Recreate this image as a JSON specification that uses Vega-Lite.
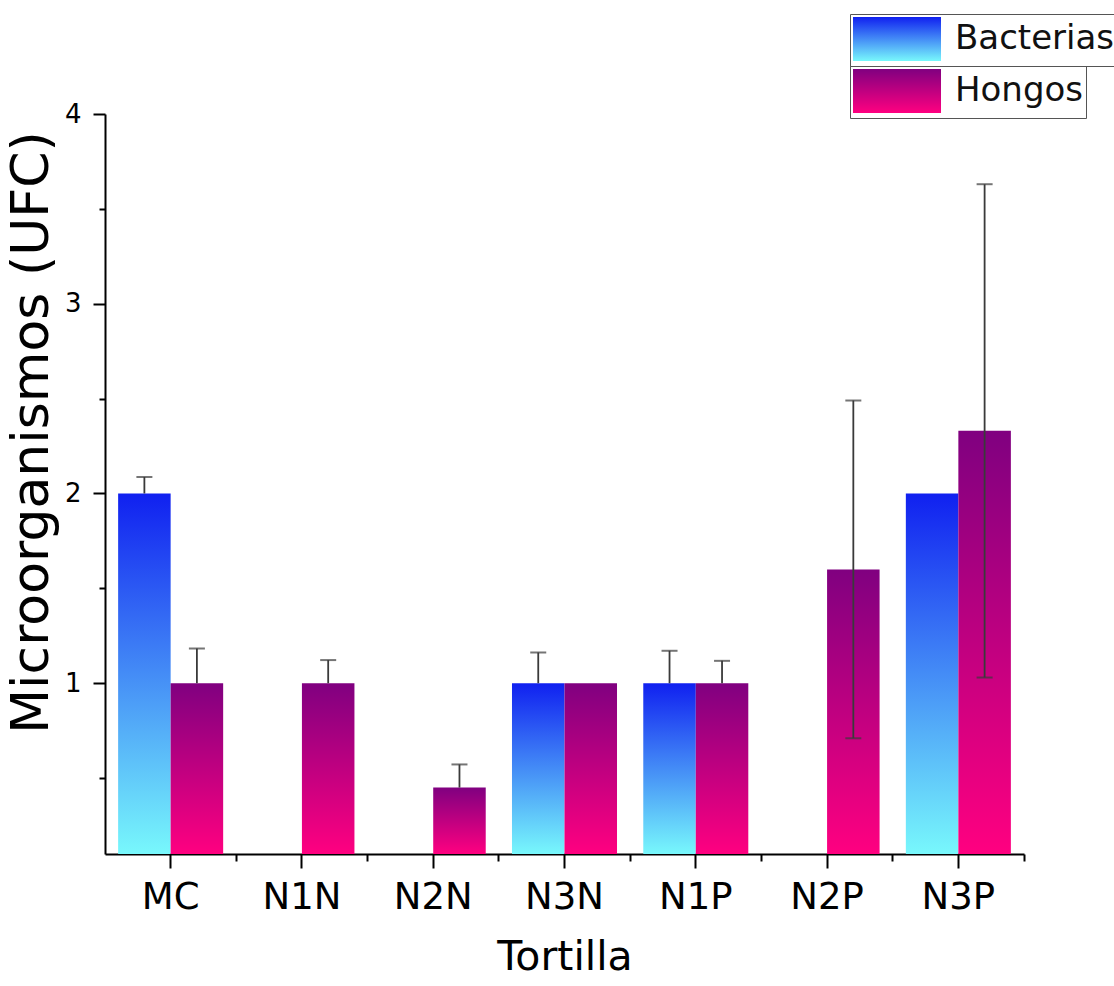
{
  "$schema": "https://vega.github.io/schema/vega-lite/v6.json",
  "width": 919,
  "height": 740,
  "autosize": "none",
  "padding": {"left": 105, "top": 114, "right": 90, "bottom": 132},
  "background": "white",
  "config": {
    "view": {"stroke": null},
    "font": "DejaVu Sans",
    "axis": {
      "domainColor": "black", "tickColor": "black", "labelColor": "black", "titleColor": "black",
      "grid": false, "labelFont": "DejaVu Sans", "titleFont": "DejaVu Sans", "titleFontWeight": "normal"
    }
  },
  "data": {
    "values": [
      {"cat": "MC", "group": "Bacterias", "value": 2, "lo": 2, "hi": 2.087},
      {"cat": "MC", "group": "Hongos", "value": 1, "lo": 1, "hi": 1.183},
      {"cat": "N1N", "group": "Hongos", "value": 1, "lo": 1, "hi": 1.122},
      {"cat": "N2N", "group": "Hongos", "value": 0.45, "lo": 0.45, "hi": 0.572},
      {"cat": "N3N", "group": "Bacterias", "value": 1, "lo": 1, "hi": 1.162},
      {"cat": "N3N", "group": "Hongos", "value": 1, "lo": null, "hi": null},
      {"cat": "N1P", "group": "Bacterias", "value": 1, "lo": 1, "hi": 1.171},
      {"cat": "N1P", "group": "Hongos", "value": 1, "lo": 1, "hi": 1.118},
      {"cat": "N2P", "group": "Hongos", "value": 1.6, "lo": 0.71, "hi": 2.49},
      {"cat": "N3P", "group": "Bacterias", "value": 2, "lo": null, "hi": null},
      {"cat": "N3P", "group": "Hongos", "value": 2.33, "lo": 1.03, "hi": 3.63}
    ]
  },
  "resolve": {
    "axis": {"x": "independent", "y": "independent"},
    "scale": {"opacity": "independent"},
    "legend": {"opacity": "independent"}
  },
  "layer": [
    {
      "transform": [{"filter": "datum.group === 'Bacterias'"}],
      "mark": {
        "type": "bar",
        "fill": {"gradient": "linear", "x1": 0, "y1": 0, "x2": 0, "y2": 1,
          "stops": [{"offset": 0, "color": "#1020f0"}, {"offset": 1, "color": "#78f8fc"}]}
      },
      "encoding": {
        "x": {
          "field": "cat", "type": "nominal",
          "sort": ["MC", "N1N", "N2N", "N3N", "N1P", "N2P", "N3P"],
          "scale": {"domain": ["MC", "N1N", "N2N", "N3N", "N1P", "N2P", "N3P"], "paddingInner": 0.2, "paddingOuter": 0.1},
          "axis": {
            "orient": "bottom", "title": "Tortilla", "labelAngle": 0,
            "labelFontSize": 37, "labelPadding": 11, "tickSize": 14, "tickWidth": 2, "domainWidth": 2,
            "titleFontSize": 41, "titlePadding": 22
          }
        },
        "xOffset": {
          "field": "group", "type": "nominal",
          "scale": {"domain": ["Bacterias", "Hongos"], "paddingInner": 0, "paddingOuter": 0}
        },
        "y": {
          "field": "value", "type": "quantitative",
          "scale": {"domain": [0.1, 4], "nice": false, "zero": false},
          "axis": {
            "orient": "left", "values": [1, 2, 3, 4], "title": "Microorganismos (UFC)",
            "labelFontSize": 26, "labelPadding": 12, "tickSize": 12, "tickWidth": 2, "domainWidth": 2,
            "titleFontSize": 52, "titleAngle": -90, "titleAlign": "center", "titleBaseline": "bottom",
            "titleX": -47, "titleY": 318
          }
        },
        "y2": {"datum": 0.1},
        "opacity": {
          "datum": "Bacterias", "type": "nominal",
          "scale": {"range": [1, 1]},
          "legend": {
            "orient": "none", "legendX": 745, "legendY": -100, "title": null,
            "symbolType": "M-1,-1H3V1H-1Z", "symbolSize": 1936,
            "labelFont": "DejaVu Sans", "labelFontSize": 34, "labelColor": "#111",
            "labelOffset": 57, "labelLimit": 400, "padding": 2,
            "strokeColor": "#555", "symbolOpacity": 1,
            "symbolStrokeColor": "#333333", "symbolStrokeWidth": 1.5
          }
        }
      }
    },
    {
      "transform": [{"filter": "datum.group === 'Hongos'"}],
      "mark": {
        "type": "bar",
        "fill": {"gradient": "linear", "x1": 0, "y1": 0, "x2": 0, "y2": 1,
          "stops": [{"offset": 0, "color": "#800080"}, {"offset": 1, "color": "#ff0080"}]}
      },
      "encoding": {
        "x": {
          "field": "cat", "type": "nominal",
          "sort": ["MC", "N1N", "N2N", "N3N", "N1P", "N2P", "N3P"],
          "axis": {
            "orient": "bottom", "title": null, "labels": false, "domain": false,
            "tickSize": 7, "tickWidth": 2, "bandPosition": 1.125
          }
        },
        "xOffset": {"field": "group", "type": "nominal"},
        "y": {
          "field": "value", "type": "quantitative",
          "axis": {
            "orient": "left", "title": null, "labels": false, "domain": false,
            "values": [0.5, 1.5, 2.5, 3.5], "tickSize": 6, "tickWidth": 2
          }
        },
        "y2": {"datum": 0.1},
        "opacity": {
          "datum": "Hongos", "type": "nominal",
          "scale": {"range": [1, 1]},
          "legend": {
            "orient": "none", "legendX": 745, "legendY": -48, "title": null,
            "symbolType": "M-1,-1H3V1H-1Z", "symbolSize": 1936,
            "labelFont": "DejaVu Sans", "labelFontSize": 34, "labelColor": "#111",
            "labelOffset": 57, "labelLimit": 400, "padding": 2,
            "strokeColor": "#555", "symbolOpacity": 1
          }
        }
      }
    },
    {
      "transform": [{"filter": "datum.hi != null"}],
      "mark": {"type": "rule", "color": "#3a3a3a", "strokeWidth": 1.8},
      "encoding": {
        "x": {"field": "cat", "type": "nominal", "sort": ["MC", "N1N", "N2N", "N3N", "N1P", "N2P", "N3P"], "axis": null},
        "xOffset": {"field": "group", "type": "nominal"},
        "y": {"field": "lo", "type": "quantitative", "axis": null},
        "y2": {"field": "hi"}
      }
    },
    {
      "transform": [{"filter": "datum.hi != null"}],
      "mark": {"type": "tick", "color": "#3a3a3a", "size": 16, "thickness": 2},
      "encoding": {
        "x": {"field": "cat", "type": "nominal", "sort": ["MC", "N1N", "N2N", "N3N", "N1P", "N2P", "N3P"], "axis": null},
        "xOffset": {"field": "group", "type": "nominal"},
        "y": {"field": "hi", "type": "quantitative", "axis": null}
      }
    },
    {
      "transform": [{"filter": "datum.lo != null && datum.lo < datum.value"}],
      "mark": {"type": "tick", "color": "#3a3a3a", "size": 16, "thickness": 2},
      "encoding": {
        "x": {"field": "cat", "type": "nominal", "sort": ["MC", "N1N", "N2N", "N3N", "N1P", "N2P", "N3P"], "axis": null},
        "xOffset": {"field": "group", "type": "nominal"},
        "y": {"field": "lo", "type": "quantitative", "axis": null}
      }
    }
  ]
}
